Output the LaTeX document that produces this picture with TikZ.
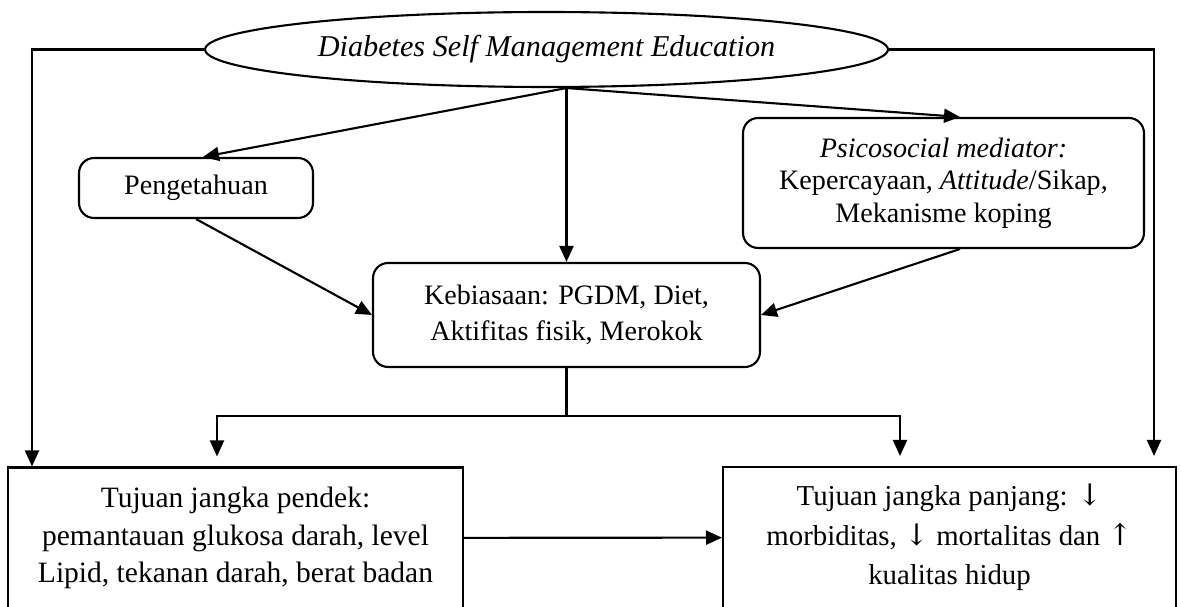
\documentclass[tikz,border=0pt]{standalone}
\usepackage{fontspec}
\setmainfont{Liberation Serif}
\newfontfamily\arrowfont{DejaVu Serif}
\newcommand{\dn}{{\arrowfont\fontsize{17}{17}\selectfont ↓}}
\newcommand{\upr}{{\arrowfont\fontsize{17}{17}\selectfont ↑}}
\usetikzlibrary{shapes.geometric,arrows.meta}

\begin{document}
\begin{tikzpicture}[x=0.02cm,y=-0.02cm,line width=1.2pt,
  >={Triangle[length=0.32cm,width=0.28cm]},
  every node/.style={font=\fontsize{16}{18}\selectfont,inner sep=0pt},
  soft/.style={draw,rounded corners=0.3cm,align=center},
  goal/.style={draw,align=center,minimum height=2.82cm}]
  \useasboundingbox (0,0) rectangle (1181,607);

  \node[draw,ellipse,minimum width=13.66cm,minimum height=1.5cm,font=\fontsize{17.2}{19}\selectfont] (dsme) at (546.5,49.5)
    {\textit{Diabetes Self Management Education}};
  \node[soft,minimum width=4.68cm,minimum height=1.2cm] (peng) at (196,188) {Pengetahuan};
  \node[soft,minimum width=8.02cm,minimum height=2.6cm,font=\fontsize{16}{18.4}\selectfont] (psy) at (943.5,183)
    {\textit{Psicosocial mediator:}\\ Kepercayaan, \textit{Attitude}/Sikap,\\ Mekanisme koping};
  \node[soft,minimum width=7.74cm,minimum height=2.08cm,font=\fontsize{16}{20.4}\selectfont] (keb) at (566.5,315)
    {Kebiasaan: PGDM, Diet,\\ Aktifitas fisik, Merokok};
  \node[goal,minimum width=9.1cm,font=\fontsize{16.8}{21.5}\selectfont] (short) at (235.5,538)
    {Tujuan jangka pendek:\\ pemantauan glukosa darah, level\\ Lipid, tekanan darah, berat badan};
  \node[goal,minimum width=9.06cm,font=\fontsize{16.4}{22.4}\selectfont] (long) at (949.5,537.5)
    {Tujuan jangka panjang: \dn\\ morbiditas, \dn{} mortalitas dan \upr\\ kualitas hidup};

  \coordinate (hub) at (dsme.south -| keb.north);
  \coordinate (split) at (566.5,416);

  \path[->]
    (hub) edge ([xshift=0.14cm]peng.north)
          edge (keb)
          edge ([xshift=0.33cm]psy.north)
    (peng.south) edge (keb.west)
    ([xshift=0.33cm]psy.south) edge (keb.east)
    (short) edge (long);
  \draw (keb) -- (split);
  \draw[->,shorten >=0.2cm] (split) -| ([xshift=-0.37cm]short.north);
  \draw[->,shorten >=0.2cm] (split) -| ([xshift=-0.99cm]long.north);
  \draw[->] (dsme.west) -| ([xshift=0.5cm]short.north west);
  \draw[->,shorten >=0.2cm] (dsme.east) -| ([xshift=-0.46cm]long.north east);
  %\draw[dashed] (peng) -- (psy);
\end{tikzpicture}
\end{document}
